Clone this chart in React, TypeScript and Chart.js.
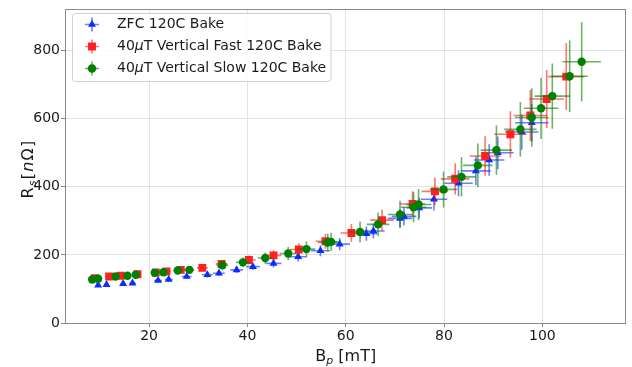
import React, { useEffect, useRef } from 'react';
import { Chart, registerables } from 'chart.js';

Chart.register(...registerables);

// ---- data ----
const zfcB = [9.64, 11.35, 14.72, 16.63, 21.83, 24.0, 27.65, 31.86, 34.21, 37.81, 41.12, 45.32, 50.33, 54.86, 58.78, 64.2, 65.63, 71.05, 71.86, 74.96, 77.95, 82.95, 86.48, 89.18, 90.95, 95.82, 97.85];
const zfcRs = [111.3, 112.5, 115.4, 117.2, 125.0, 127.9, 136.6, 141.5, 146.2, 156.1, 165.6, 175.2, 194.7, 212.1, 231.6, 262.4, 270.3, 307.2, 313.0, 338.0, 363.3, 410.6, 446.7, 478.6, 499.9, 560.9, 587.9];
const zfcBErr = [0.4, 0.4, 0.5, 0.6, 0.8, 0.8, 1.0, 1.1, 1.2, 1.3, 1.4, 1.6, 1.8, 1.9, 2.1, 2.2, 2.3, 2.5, 2.5, 2.6, 2.7, 2.9, 3.0, 3.1, 3.2, 3.4, 3.4];
const zfcRsErr = [4, 4, 5, 5, 6, 6, 7, 8, 8, 9, 10, 12, 14, 16, 18, 21, 22, 26, 27, 30, 33, 38, 42, 46, 48, 52, 55];

const fastB = [8.97, 11.88, 14.25, 17.64, 21.36, 23.53, 26.44, 30.84, 34.76, 40.3, 45.32, 50.46, 55.88, 61.16, 67.39, 73.6, 78.15, 82.27, 88.36, 93.5, 97.56, 100.89, 104.87];
const fastRs = [131.6, 136.6, 138.6, 143.3, 148.2, 151.1, 156.1, 161.9, 173.5, 185.1, 198.5, 215.9, 240.3, 264.5, 302.2, 349.6, 386.5, 423.4, 490.3, 554.2, 609.4, 657.7, 723.6];
const fastBErr = [0.4, 0.5, 0.6, 0.7, 0.8, 0.9, 1.0, 1.1, 1.2, 1.4, 1.6, 1.8, 2.0, 2.2, 2.4, 2.6, 2.7, 2.9, 3.1, 3.3, 3.4, 3.5, 3.7];
const fastRsErr = [6, 6, 7, 7, 8, 8, 9, 10, 11, 13, 15, 18, 22, 26, 31, 37, 41, 46, 58, 68, 75, 85, 98];

const slowB = [8.43, 9.64, 13.18, 15.61, 17.3, 21.16, 22.92, 25.83, 28.2, 34.9, 39.09, 43.63, 48.3, 52.02, 56.34, 57.03, 62.92, 66.58, 71.05, 73.81, 74.82, 79.9, 83.55, 86.88, 90.66, 95.53, 97.85, 99.74, 102.03, 105.56, 108.0];
const slowRs = [127.9, 129.9, 136.6, 138.6, 141.5, 147.3, 149.1, 154.0, 156.1, 169.4, 178.1, 190.9, 204.3, 217.1, 236.3, 238.3, 267.4, 289.7, 318.8, 340.0, 347.9, 392.3, 429.2, 462.9, 507.7, 568.7, 603.6, 630.6, 666.4, 724.5, 767.2];
const slowBErr = [0.3, 0.3, 0.5, 0.5, 0.6, 0.7, 0.8, 0.9, 1.0, 1.2, 1.4, 1.5, 1.7, 1.8, 2.0, 2.0, 2.2, 2.3, 2.5, 2.6, 2.6, 2.8, 2.9, 3.0, 3.2, 3.3, 3.4, 3.5, 3.6, 3.7, 3.9];
const slowRsErr = [5, 5, 6, 6, 7, 8, 8, 9, 10, 12, 14, 16, 19, 22, 26, 27, 31, 35, 40, 44, 46, 53, 58, 64, 72, 80, 86, 90, 96, 105, 116];

const xTicks = [20, 40, 60, 80, 100];
const yTicks = [0, 200, 400, 600, 800];
const xRange = [2.9, 117.1];
const yRange = [0, 921];

const FONT = '"DejaVu Sans", sans-serif';

type Series = {
  b: number[]; rs: number[]; bErr: number[]; rsErr: number[];
  color: string; errColor: string; style: string; radius: number;
  pre: string; mu: boolean; post: string;
};

const SERIES: Series[] = [
  { b: zfcB, rs: zfcRs, bErr: zfcBErr, rsErr: zfcRsErr, color: 'rgb(10,45,255)', errColor: 'rgba(10,45,255,0.6)', style: 'triangle', radius: 4.6, pre: 'ZFC 120C Bake', mu: false, post: '' },
  { b: fastB, rs: fastRs, bErr: fastBErr, rsErr: fastRsErr, color: 'rgb(255,32,32)', errColor: 'rgba(255,0,0,0.55)', style: 'rect', radius: 5.6, pre: '40', mu: true, post: 'T Vertical Fast 120C Bake' },
  { b: slowB, rs: slowRs, bErr: slowBErr, rsErr: slowRsErr, color: 'rgb(0,128,0)', errColor: 'rgba(0,128,0,0.6)', style: 'circle', radius: 4.2, pre: '40', mu: true, post: 'T Vertical Slow 120C Bake' },
];

function drawMarker(ctx: CanvasRenderingContext2D, style: string, x: number, y: number, r: number, color: string) {
  ctx.fillStyle = color;
  ctx.beginPath();
  if (style === 'triangle') {
    let rad = 0;
    ctx.moveTo(x + Math.sin(rad) * r, y - Math.cos(rad) * r);
    rad += (2 * Math.PI) / 3;
    ctx.lineTo(x + Math.sin(rad) * r, y - Math.cos(rad) * r);
    rad += (2 * Math.PI) / 3;
    ctx.lineTo(x + Math.sin(rad) * r, y - Math.cos(rad) * r);
    ctx.closePath();
  } else if (style === 'rect') {
    const s = Math.SQRT1_2 * r;
    ctx.rect(x - s, y - s, 2 * s, 2 * s);
  } else {
    ctx.arc(x, y, r, 0, Math.PI * 2);
  }
  ctx.fill();
}

const errPlugin = {
  id: 'errbars',
  beforeDatasetDraw(chart: any, args: any) {
    const s = SERIES[args.index];
    if (!s) return;
    const { ctx, chartArea: a, scales } = chart;
    const x = scales.x, y = scales.y;
    ctx.save();
    ctx.beginPath();
    ctx.rect(a.left, a.top, a.right - a.left, a.bottom - a.top);
    ctx.clip();
    ctx.strokeStyle = s.errColor;
    ctx.lineWidth = 1.6;
    for (let i = 0; i < s.b.length; i++) {
      const px = x.getPixelForValue(s.b[i]);
      const py = y.getPixelForValue(s.rs[i]);
      const x0 = x.getPixelForValue(s.b[i] - s.bErr[i]);
      const x1 = x.getPixelForValue(s.b[i] + s.bErr[i]);
      const y0 = y.getPixelForValue(s.rs[i] - s.rsErr[i]);
      const y1 = y.getPixelForValue(s.rs[i] + s.rsErr[i]);
      ctx.beginPath();
      ctx.moveTo(x0, py); ctx.lineTo(x1, py);
      ctx.moveTo(px, y0); ctx.lineTo(px, y1);
      ctx.stroke();
    }
    ctx.restore();
  },
};

const decorPlugin = {
  id: 'decor',
  afterDatasetsDraw(chart: any) {
    const { ctx, chartArea: a } = chart;
    ctx.save();
    // frame
    ctx.strokeStyle = '#8a8a8a';
    ctx.lineWidth = 1;
    ctx.strokeRect(Math.round(a.left) + 0.5, Math.round(a.top) + 0.5, Math.round(a.right - a.left) - 1, Math.round(a.bottom - a.top));

    // legend
    const bx = 72.5, by = 13.5, bw = 258.5, bh = 68;
    ctx.beginPath();
    (ctx as any).roundRect(bx, by, bw, bh, 3);
    ctx.fillStyle = 'rgba(255,255,255,0.85)';
    ctx.fill();
    ctx.strokeStyle = '#d0d0d0';
    ctx.stroke();
    const rows = [24.5, 46.5, 68.5];
    const mx = 92, tx = 117;
    SERIES.forEach((s, i) => {
      const ry = rows[i];
      ctx.strokeStyle = s.errColor;
      ctx.lineWidth = 1.6;
      ctx.beginPath();
      ctx.moveTo(mx - 7, ry); ctx.lineTo(mx + 7, ry);
      ctx.moveTo(mx, ry - 7); ctx.lineTo(mx, ry + 7);
      ctx.stroke();
      drawMarker(ctx, s.style, mx, ry, s.radius, s.color);
      ctx.fillStyle = '#1a1a1a';
      ctx.textBaseline = 'middle';
      ctx.textAlign = 'left';
      ctx.font = `14px ${FONT}`;
      let cx = tx;
      ctx.fillText(s.pre, cx, ry);
      cx += ctx.measureText(s.pre).width;
      if (s.mu) {
        ctx.font = `italic 14px ${FONT}`;
        ctx.fillText('μ', cx, ry);
        cx += ctx.measureText('μ').width;
        ctx.font = `14px ${FONT}`;
        ctx.fillText(s.post, cx, ry);
      }
    });

    // axis titles
    ctx.fillStyle = '#1a1a1a';
    ctx.textBaseline = 'alphabetic';
    ctx.textAlign = 'left';
    // x title: B_p [mT]
    {
      const big = `16px ${FONT}`, sub = `italic 11px ${FONT}`;
      ctx.font = big; const wB = ctx.measureText('B').width;
      ctx.font = sub; const wP = ctx.measureText('p').width;
      ctx.font = big; const wR = ctx.measureText(' [mT]').width;
      const total = wB + wP + wR;
      let cx = (a.left + a.right) / 2 - total / 2;
      const base = 360.5;
      ctx.font = big; ctx.fillText('B', cx, base); cx += wB;
      ctx.font = sub; ctx.fillText('p', cx, base + 3); cx += wP;
      ctx.font = big; ctx.fillText(' [mT]', cx, base);
    }
    // y title: R_s[nΩ]
    {
      ctx.save();
      ctx.translate(33, 169);
      ctx.rotate(-Math.PI / 2);
      const big = `16px ${FONT}`, sub = `italic 11px ${FONT}`, it = `italic 16px ${FONT}`;
      const parts: [string, string, number][] = [
        ['R', big, 0], ['s', sub, 3], ['[', big, 0], ['n', it, 0], ['Ω', big, 0], [']', big, 0],
      ];
      const gap = 1.2;
      let total = 0;
      parts.forEach(([t, f]) => { ctx.font = f; total += ctx.measureText(t).width + gap; });
      let cx = -total / 2;
      parts.forEach(([t, f, dy]) => {
        ctx.font = f;
        ctx.fillText(t, cx, dy);
        cx += ctx.measureText(t).width + gap;
      });
      ctx.restore();
    }
    ctx.restore();
  },
};

export default function App() {
  const ref = useRef<HTMLCanvasElement | null>(null);
  useEffect(() => {
    if (!ref.current) return;
    Chart.defaults.font.family = FONT;
    const datasets = SERIES.map((s, i) => ({
      label: s.pre,
      data: s.b.map((b, j) => ({ x: b, y: s.rs[j] })),
      pointStyle: s.style,
      pointRadius: s.radius,
      pointBackgroundColor: s.color,
      pointBorderColor: s.color,
      pointBorderWidth: 0,
      showLine: false,
      order: 2 - i,
    }));
    const chart = new Chart(ref.current, {
      type: 'scatter',
      data: { datasets } as any,
      plugins: [errPlugin, decorPlugin],
      options: {
        animation: false,
        responsive: false,
        events: [],
        layout: { padding: { top: 6, right: 4, left: 0, bottom: 0 } },
        plugins: { legend: { display: false }, tooltip: { enabled: false }, title: { display: false } },
        scales: {
          x: {
            type: 'linear',
            min: xRange[0],
            max: xRange[1],
            afterBuildTicks: (s: any) => { s.ticks = xTicks.map((v) => ({ value: v })); },
            afterFit: (s: any) => { s.height = 44; },
            grid: { color: '#e2e2e2', lineWidth: 1, drawTicks: true, tickLength: 4, tickColor: '#8a8a8a' },
            border: { display: false },
            ticks: { color: '#1a1a1a', font: { size: 14, family: FONT }, padding: 1, maxRotation: 0, autoSkip: false },
          },
          y: {
            type: 'linear',
            min: yRange[0],
            max: yRange[1],
            afterBuildTicks: (s: any) => { s.ticks = yTicks.map((v) => ({ value: v })); },
            afterFit: (s: any) => { s.width = 65; },
            grid: { color: '#e2e2e2', lineWidth: 1, drawTicks: true, tickLength: 4, tickColor: '#8a8a8a' },
            border: { display: false },
            ticks: { color: '#1a1a1a', font: { size: 14, family: FONT }, padding: 1, autoSkip: false },
          },
        },
      } as any,
    });
    return () => chart.destroy();
  }, []);
  return (
    <div style={{ position: 'fixed', left: 0, top: 0, width: 632, height: 367, background: '#fff' }}>
      <canvas ref={ref} width={632} height={367} style={{ display: 'block' }} />
    </div>
  );
}
